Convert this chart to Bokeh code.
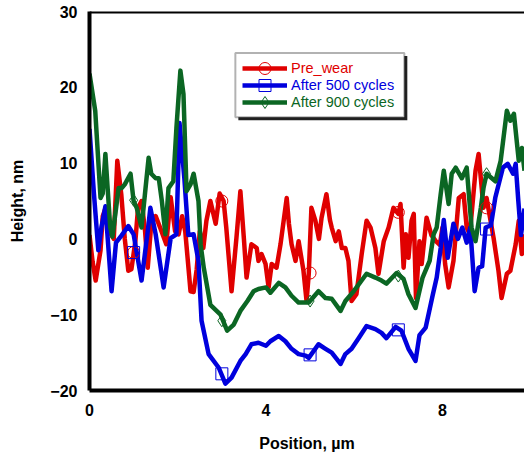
from bokeh.plotting import figure
from bokeh.models import Range1d, FixedTicker, Span, BoxAnnotation, Legend, LegendItem
from bokeh.embed import file_html
from bokeh.resources import INLINE

# ---------------- data ----------------
x_ticks = [0, 4, 8]
y_ticks = [-20, -10, 0, 10, 20, 30]

pre_x = [0.0, 0.07, 0.14, 0.25, 0.3, 0.36, 0.45, 0.55, 0.63, 0.72, 0.8, 0.88, 0.95, 1.04, 1.1, 1.18, 1.26, 1.32,
         1.4, 1.5, 1.6, 1.74, 1.84, 1.94, 2.02, 2.1, 2.17, 2.29, 2.36, 2.43, 2.5, 2.58, 2.65, 2.74, 2.86, 2.95,
         3.04, 3.1, 3.22, 3.33, 3.42, 3.5, 3.56, 3.67, 3.79, 3.83, 3.9, 3.99, 4.06, 4.13, 4.24, 4.33, 4.47, 4.52,
         4.58, 4.67, 4.74, 4.85, 4.92, 4.97, 5.03, 5.12, 5.2, 5.26, 5.37, 5.45, 5.49, 5.58, 5.65, 5.72, 5.8, 5.87,
         5.94, 6.05, 6.17, 6.28, 6.37, 6.48, 6.55, 6.67, 6.78, 6.89, 7.0, 7.05, 7.12, 7.17, 7.23, 7.3, 7.35, 7.4,
         7.48, 7.53, 7.64, 7.75, 7.85, 7.94, 8.0, 8.06, 8.14, 8.25, 8.37, 8.48, 8.55, 8.62, 8.75, 8.82, 8.89, 8.93,
         9.0, 9.09, 9.16, 9.27, 9.34, 9.46, 9.54, 9.66, 9.73, 9.8, 9.86]
pre_y = [0.5, -3, -5.5, -1.5, 3, 4, 1, 0, 10.3, 5.9, 0, -4.2, -4, -0.3, 4.1, 5, 1, -3.8,
         2, 3, 1.5, -0.7, 5.5, 1, 0.6, 3, 1, -6.9, -7, -4, 1, -1.2, 2.4, 5, 2, 6,
         5, 1.5, -6.9, 0.1, 6.3, 0, -5.1, -0.7, -1.2, -2.9, -2, -3.3, -6.4, -3.3, -3.8, -0.7, 5.4, 2,
         -0.7, -2.9, -0.3, -4.2, -8.2, -4.6, 4.1, 2.4, 0, 2.8, 5.9, 2.5, 1.5, -0.3, 1, -1.2, -1.2, -2.9,
         -8.2, -7.3, -2, 2.4, 1.5, -1.2, -4.6, -0.3, 1.5, 4.1, 3.3, 4.6, -3.8, 0.6, -2.5, 2.4, 3.3, -7.8,
         -0.3, -3.3, 2.8, 0.5, -0.3, -0.8, 1.5, -3.3, -6.4, -2.9, 5.4, 5.9, 1.5, 0.6, 9, 11.2, 6.7, 4.1,
         5.4, 2.4, 0.1, -4.2, -7.8, -4.6, -4.2, -0.7, 2.4, -2, 0.6]

c500_x = [0.0, 0.1, 0.2, 0.27, 0.36, 0.5, 0.6, 0.72, 0.88, 1.0, 1.18, 1.33, 1.38, 1.5, 1.68, 1.84, 1.97, 2.04,
          2.15, 2.24, 2.36, 2.47, 2.54, 2.7, 2.93, 3.08, 3.22, 3.42, 3.54, 3.67, 3.83, 4.0, 4.1, 4.29, 4.44, 4.58,
          4.74, 4.9, 4.97, 5.19, 5.35, 5.49, 5.69, 5.8, 5.94, 6.1, 6.28, 6.48, 6.62, 6.73, 6.94, 7.07, 7.23, 7.39,
          7.48, 7.62, 7.78, 7.87, 7.96, 8.03, 8.12, 8.25, 8.35, 8.45, 8.55, 8.63, 8.73, 8.82, 8.9, 8.98, 9.1, 9.2,
          9.37, 9.48, 9.6, 9.66, 9.72, 9.78, 9.86]
c500_y = [14.5, 6, -1.5, 1.5, 4.3, -6.9, -0.5, 0.4, 1.7, 0.6, -5.5, 1.5, 4.1, 0.6, -6.4, 0.1, 0.6, 15.3,
          8, 0.5, 0.6, -2.9, -10.8, -15.2, -17, -19.1, -18.3, -16.1, -15.2, -13.9, -13.7, -14.1, -13.5, -12.8, -13.5, -14.5,
          -15.2, -15.4, -15.7, -13.9, -14.5, -15.0, -16.5, -15.2, -14.5, -13.1, -11.5, -11.9, -12.4, -13.1, -11.6, -12.1, -14.5, -16.1,
          -12.7, -11.7, -7.4, -5.1, -1.2, 2.5, -2.5, 2, 0, 1.5, -0.5, 1.5, -6.9, -3.8, -3.6, 1.5, 1.8, 5.5,
          9.4, 9.9, 8.6, 9.9, 5, 0.5, 4]

c900_x = [0.0, 0.13, 0.25, 0.3, 0.36, 0.47, 0.52, 0.66, 0.73, 0.8, 0.93, 1.0, 1.07, 1.18, 1.34, 1.4, 1.5, 1.57,
          1.64, 1.72, 1.79, 1.9, 1.97, 2.06, 2.13, 2.2, 2.29, 2.36, 2.47, 2.52, 2.59, 2.74, 2.97, 3.12, 3.27, 3.42,
          3.58, 3.72, 3.83, 4.0, 4.1, 4.29, 4.44, 4.58, 4.74, 4.97, 5.19, 5.35, 5.49, 5.69, 5.8, 5.99, 6.28, 6.48,
          6.62, 6.73, 6.96, 7.12, 7.23, 7.39, 7.55, 7.71, 7.8, 7.87, 7.96, 8.03, 8.14, 8.21, 8.3, 8.44, 8.55, 8.66,
          8.75, 8.87, 8.93, 9.0, 9.12, 9.2, 9.32, 9.46, 9.54, 9.62, 9.73, 9.8, 9.86]
c900_y = [21.8, 16.9, 5.4, 6, 11.2, 1.5, 0.3, 6.7, 6.7, 7.2, 8.6, 5, 4.1, 1.5, 10.7, 8.6, 8, 8,
          5, 0.6, 6.7, 7.6, 14.6, 22.2, 19.1, 6.3, 7.2, 8.6, 5, -0.8, -3.8, -8.7, -10, -12.1, -11.3, -9.5,
          -8.2, -6.9, -6.6, -6.4, -7.1, -5.8, -6.4, -7.5, -8.4, -8.4, -6.9, -7.8, -7.9, -9.5, -8.2, -6.9, -4.6, -5.1,
          -5.5, -5.9, -4.5, -5.3, -7.3, -9.1, -5.1, -2.9, 0.6, 1.5, 5.9, 9, 4.6, 8.6, 9.4, 8, 9.4, 1.5,
          -0.3, 4.1, 6.7, 8.6, 8, 7.6, 10.3, 16.9, 15.6, 16.5, 10.3, 12, 9]

marker_x = [1, 3, 5, 7, 9]
pre_marker_y = [-1.8, 5, -4.5, 3.5, 4.1]
c500_marker_y = [-1.8, -17.8, -15.3, -12, 1.3]
c900_marker_y = [5.1, -10.8, -8.2, -4.9, 8.6]

labels = ["Pre_wear", "After 500 cycles", "After 900 cycles"]
colors = ["#e00000", "#0000dd", "#0b6623"]
markers = ["circle", "square", "diamond"]

# ---------------- figure ----------------
FONT = "Liberation Sans"
p = figure(width=524, height=454, output_backend="svg", toolbar_location=None,
           x_range=Range1d(0, 9.86), y_range=Range1d(-20, 30),
           min_border_left=89, min_border_right=0, min_border_top=11, min_border_bottom=64)
p.outline_line_color = None
p.grid.visible = False
p.background_fill_color = "white"
p.border_fill_color = "white"

for ax, ticks in ((p.xaxis[0], x_ticks), (p.yaxis[0], y_ticks)):
    ax.ticker = FixedTicker(ticks=ticks)
    ax.axis_line_width = 4
    ax.axis_line_color = "black"
    ax.major_tick_line_color = None
    ax.minor_tick_line_color = None
    ax.major_label_text_font = FONT
    ax.major_label_text_font_style = "bold"
    ax.major_label_text_font_size = "16px"
    ax.major_label_text_color = "black"
    ax.axis_label_text_font = FONT
    ax.axis_label_text_font_style = "bold"
    ax.axis_label_text_font_size = "16px"
    ax.axis_label_text_color = "black"

p.xaxis.axis_label = "Position, \u00b5m"
p.yaxis.axis_label = "Height, nm"
p.xaxis.major_label_standoff = 7
p.xaxis.axis_label_standoff = 16
p.yaxis.major_label_standoff = 6
p.yaxis.axis_label_standoff = 21

p.add_layout(Span(location=30, dimension="width", line_color="black", line_width=4))

series = [(pre_x, pre_y, pre_marker_y), (c500_x, c500_y, c500_marker_y), (c900_x, c900_y, c900_marker_y)]
renderers = []
for (xs, ys, mys), col, mk in zip(series, colors, markers):
    lr = p.line(xs, ys, line_color=col, line_width=4.5, line_join="round")
    renderers.append([lr])
for (xs, ys, mys), col, mk, rs in zip(series, colors, markers, renderers):
    sr = p.scatter(marker_x, mys, marker=mk, size=12, fill_color=None, line_color=col, line_width=1)
    rs.append(sr)

# legend frame with shadow
p.add_layout(BoxAnnotation(left=3.374, right=7.204, top=24.12, bottom=15.66,
                           fill_color="#222222", fill_alpha=1, line_color=None))
p.add_layout(BoxAnnotation(left=3.306, right=7.136, top=24.52, bottom=16.06,
                           fill_color="white", fill_alpha=1, line_color="black", line_width=2))

row_centers = [68, 85, 102]
for lab, col, rs, cy in zip(labels, colors, renderers, row_centers):
    leg = Legend(items=[LegendItem(label=lab, renderers=rs)],
                 location=(153, 390 - cy - 15), padding=0, margin=0, spacing=0,
                 border_line_color=None, background_fill_alpha=0,
                 glyph_width=45, glyph_height=30, label_standoff=4, label_height=30,
                 label_text_color=col, label_text_font=FONT, label_text_font_size="14.5px")
    p.add_layout(leg)

open("out.html", "w").write(file_html(p, INLINE))
